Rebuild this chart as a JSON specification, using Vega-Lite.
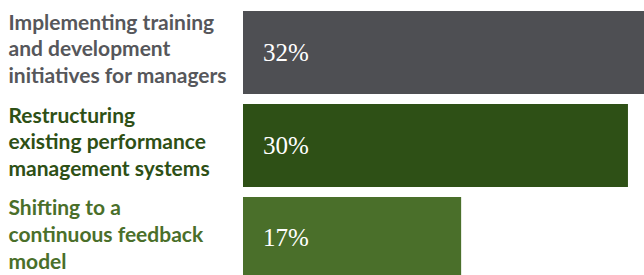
{
  "$schema": "https://vega.github.io/schema/vega-lite/v6.json",
  "width": 401,
  "height": 275,
  "autosize": {"type": "none"},
  "padding": {"left": 243, "top": 0, "right": 0, "bottom": 0},
  "background": "white",
  "config": {"view": {"stroke": null}},
  "data": {
    "values": [
      {"label": "Implementing training|and development|initiatives for managers", "value": 32, "text": "32%", "color": "#4e4f53"},
      {"label": "Restructuring|existing performance|management systems", "value": 30, "text": "30%", "color": "#2e5016"},
      {"label": "Shifting to a|continuous feedback|model", "value": 17, "text": "17%", "color": "#4a6f2a"}
    ]
  },
  "encoding": {
    "y": {
      "field": "label",
      "type": "nominal",
      "sort": null,
      "scale": {"range": [11, 280], "paddingInner": 0.1075, "paddingOuter": 0},
      "axis": {
        "title": null,
        "domain": false,
        "ticks": false,
        "labelAlign": "left",
        "labelPadding": 235,
        "labelBaseline": "middle",
        "labelOffset": -29,
        "labelFont": "Lato",
        "labelFontWeight": "bold",
        "labelFontSize": 21,
        "labelLineHeight": 26.7,
        "labelLimit": 300,
        "labelExpr": "split(datum.value, '|')",
        "labelColor": {"expr": "indexof(datum.value, 'Implementing') == 0 ? '#56575b' : indexof(datum.value, 'Restructuring') == 0 ? '#2e5016' : '#4a6f2a'"}
      }
    }
  },
  "layer": [
    {
      "mark": {"type": "bar", "clip": true},
      "encoding": {
        "x": {"field": "value", "type": "quantitative", "scale": {"domain": [0, 31.25], "nice": false}, "axis": null},
        "color": {"field": "color", "type": "nominal", "scale": null}
      }
    },
    {
      "mark": {"type": "text", "align": "left", "baseline": "middle", "dx": 20, "font": "Liberation Serif", "fontSize": 25, "color": "white"},
      "encoding": {
        "x": {"datum": 0, "type": "quantitative"},
        "text": {"field": "text"}
      }
    }
  ]
}
